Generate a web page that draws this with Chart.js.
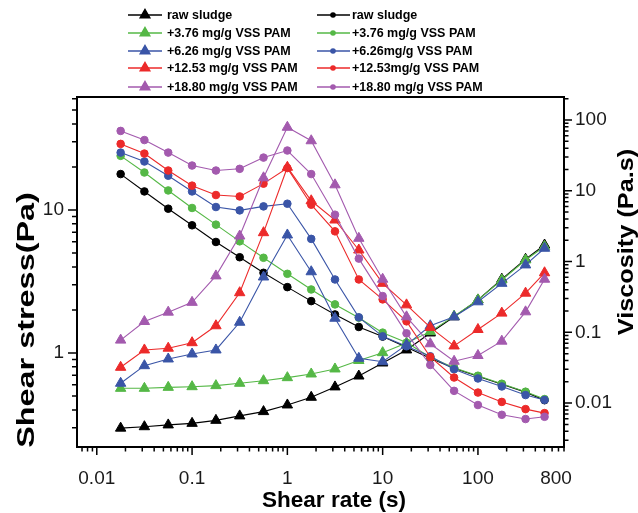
<!DOCTYPE html>
<html><head><meta charset="utf-8">
<script src="https://cdn.jsdelivr.net/npm/chart.js@4.4.0/dist/chart.umd.min.js"></script>
<style>html,body{margin:0;padding:0;background:#fff;}</style>
</head><body>
<canvas id="c" width="638" height="513"></canvas>
<script>
// ---- data ----
const shearRate = [0.0178,0.0316,0.0562,0.1,0.178,0.316,0.562,1,1.78,3.16,5.62,10,17.8,31.6,56.2,100,178,316,500];
const stressLabels = ['raw sludge','+3.76 mg/g VSS PAM','+6.26 mg/g VSS PAM','+12.53 mg/g VSS PAM','+18.80 mg/g VSS PAM'];
const viscLabels = ['raw sludge','+3.76 mg/g VSS PAM','+6.26mg/g VSS PAM','+12.53mg/g VSS PAM','+18.80 mg/g VSS PAM'];
const stressRaw  = [0.298,0.305,0.314,0.322,0.338,0.363,0.389,0.433,0.490,0.579,0.690,0.851,1.05,1.38,1.79,2.35,3.28,4.52,5.69];
const stress376  = [0.566,0.566,0.575,0.581,0.591,0.614,0.640,0.672,0.713,0.773,0.886,1.005,1.175,1.41,1.81,2.35,3.24,4.47,5.56];
const stress626  = [0.614,0.815,0.908,0.984,1.05,1.64,3.40,6.69,3.70,1.75,0.918,0.869,1.14,1.55,1.79,2.28,3.07,4.13,5.40];
const stress1253 = [0.794,1.05,1.08,1.18,1.55,2.64,6.94,19.9,11.6,8.51,5.25,3.07,2.17,1.51,1.12,1.46,1.90,2.62,3.64];
const stress1880 = [1.23,1.66,1.93,2.26,3.46,6.58,16.8,37.9,30.5,15.0,6.34,3.28,1.79,1.16,0.875,0.96,1.21,1.94,3.28];
const viscRaw  = [17.2,9.78,5.58,3.25,1.89,1.15,0.693,0.435,0.276,0.179,0.119,0.087,0.0615,0.043,0.0311,0.024,0.0185,0.0143,0.011];
const visc376  = [31.1,18.1,10.1,5.71,3.32,1.93,1.13,0.671,0.403,0.248,0.161,0.099,0.0716,0.0445,0.0316,0.0244,0.0188,0.0145,0.0114];
const visc626  = [34.6,25.9,16.3,9.78,5.89,5.28,6.01,6.56,2.09,0.558,0.163,0.0878,0.0635,0.0459,0.0301,0.0223,0.0172,0.0130,0.0111];
const visc1253 = [45.9,33.5,19.3,11.8,8.70,8.31,12.6,20.9,6.35,2.67,0.558,0.292,0.143,0.0449,0.0230,0.0141,0.0104,0.00823,0.00723];
const visc1880 = [70,52,34.6,22.7,19.3,20.4,29.4,37,17.2,4.59,1.10,0.325,0.0968,0.0346,0.0149,0.0094,0.00684,0.00596,0.00641];
const xTicks = [0.01,0.1,1,10,100,800];
const yLeftTicks = [1,10];
const yRightTicks = [0.01,0.1,1,10,100];

const colors = ['#000000','#55b846','#3a55a7','#ec2a2a','#a35aae'];
const stressSeries = [stressRaw,stress376,stress626,stress1253,stress1880];
const viscSeries = [viscRaw,visc376,visc626,visc1253,visc1880];
const pts = arr => arr.map((v,i)=>({x:shearRate[i],y:v}));

const datasets = [];
for (let k=0;k<5;k++){
  datasets.push({label:stressLabels[k], data:pts(stressSeries[k]), yAxisID:'y',
    borderColor:colors[k], backgroundColor:colors[k], borderWidth:1.1, pointStyle:'triangle',
    pointRadius:6, pointBorderWidth:1, pointBorderColor:colors[k], pointBackgroundColor:colors[k], order:10-k});
  datasets.push({label:viscLabels[k], data:pts(viscSeries[k]), yAxisID:'y1',
    borderColor:colors[k], backgroundColor:colors[k], borderWidth:1.1, pointStyle:'circle',
    pointRadius:3.8, pointBorderWidth:1, pointBorderColor:colors[k], pointBackgroundColor:colors[k], order:10-k});
}

const FONT = "'Liberation Sans', Arial, sans-serif";
const fmt = v => { if (v>=1) return String(Math.round(v)); return String(+v.toPrecision(1)); };

const decor = {
  id:'decor',
  afterDraw(chart){
    const ctx = chart.ctx, a = chart.chartArea;
    ctx.save();
    // frame
    ctx.strokeStyle='#000'; ctx.lineWidth=2;
    ctx.strokeRect(a.left, a.top, a.right-a.left, a.bottom-a.top);
    // tick marks
    const logTicks = s => { const out=[]; const lo=Math.floor(Math.log10(s.min)), hi=Math.ceil(Math.log10(s.max));
      for(let e=lo;e<=hi;e++) for(let m=1;m<10;m++){ const v=m*Math.pow(10,e); if(v>=s.min*0.9999 && v<=s.max*1.0001) out.push({v, major:m===1}); }
      return out; };
    ctx.lineWidth=1.5; ctx.beginPath();
    const sx = chart.scales.x, sy = chart.scales.y, sy1 = chart.scales.y1;
    logTicks(sx).forEach(t=>{ const p=sx.getPixelForValue(t.v); ctx.moveTo(p,a.bottom); ctx.lineTo(p,a.bottom+(t.major?8:4.5)); });
    logTicks(sy).forEach(t=>{ const p=sy.getPixelForValue(t.v); ctx.moveTo(a.left,p); ctx.lineTo(a.left-(t.major?9:5),p); });
    logTicks(sy1).forEach(t=>{ const p=sy1.getPixelForValue(t.v); ctx.moveTo(a.right,p); ctx.lineTo(a.right+(t.major?8:4.5),p); });
    ctx.stroke();
    // axis titles
    ctx.fillStyle='#000'; ctx.textAlign='center'; ctx.textBaseline='middle';
    ctx.font = "bold 22.5px "+FONT;
    ctx.fillText('Shear rate (s)', 334, 501);
    ctx.save(); ctx.translate(27,320); ctx.rotate(-Math.PI/2); ctx.scale(1.35,1);
    ctx.font = "bold 24px "+FONT; ctx.fillText('Shear stress(Pa)',0,0); ctx.restore();
    ctx.save(); ctx.translate(627,242); ctx.rotate(-Math.PI/2); ctx.scale(1.15,1);
    ctx.font = "bold 22px "+FONT; ctx.fillText('Viscosity (Pa.s)',0,0); ctx.restore();
    // legend
    const rows=[15,33,51,68,87];
    const cols=[{l0:128,l1:162,m:145,t:167},{l0:317,l1:350,m:333,t:352}];
    ctx.font = "bold 12.5px "+FONT; ctx.textAlign='left';
    for (let k=0;k<5;k++){
      for (let c=0;c<2;c++){
        const col=cols[c], y=rows[k];
        ctx.strokeStyle=colors[k]; ctx.fillStyle=colors[k]; ctx.lineWidth=1.5;
        ctx.beginPath(); ctx.moveTo(col.l0,y); ctx.lineTo(col.l1,y); ctx.stroke();
        if (c===0){ Chart.helpers.drawPoint(ctx,{pointStyle:'triangle',radius:5.5,borderWidth:1},col.m,y); ctx.fill(); }
        else { ctx.beginPath(); ctx.arc(col.m,y,2.8,0,Math.PI*2); ctx.fill(); }
        ctx.fillStyle='#000';
        ctx.fillText(c===0?stressLabels[k]:viscLabels[k], col.t, y+0.5);
      }
    }
    ctx.restore();
  }
};

const tickFont = {family:FONT, size:19};
new Chart(document.getElementById('c'), {
  type:'line',
  data:{datasets},
  options:{
    responsive:false, animation:false,
    layout:{padding:{top:97,left:0,right:0,bottom:0}},
    plugins:{legend:{display:false}, tooltip:{enabled:false}},
    scales:{
      x:{type:'logarithmic', position:'bottom', min:0.0062, max:800,
        grid:{display:false, drawTicks:false}, border:{display:false},
        afterBuildTicks:s=>{s.ticks=xTicks.map(v=>({value:v}));},
        afterFit:s=>{s.height=513-447;},
        ticks:{font:tickFont, color:'#1a1a1a', padding:20, autoSkip:false, maxRotation:0,
          callback:v=> v===800 ? '800   ' : fmt(v)}},
      y:{type:'logarithmic', position:'left', min:0.220, max:61.7,
        grid:{display:false, drawTicks:false}, border:{display:false},
        afterBuildTicks:s=>{s.ticks=yLeftTicks.map(v=>({value:v}));},
        afterFit:s=>{s.width=77;},
        ticks:{font:tickFont, color:'#1a1a1a', padding:13, autoSkip:false, callback:v=>fmt(v)}},
      y1:{type:'logarithmic', position:'right', min:0.0024, max:211,
        grid:{display:false, drawTicks:false}, border:{display:false},
        afterBuildTicks:s=>{s.ticks=yRightTicks.map(v=>({value:v}));},
        afterFit:s=>{s.width=638-564;},
        ticks:{font:tickFont, color:'#1a1a1a', padding:11, autoSkip:false, callback:v=>fmt(v)}}
    }
  },
  plugins:[decor]
});
</script>
</body></html>
